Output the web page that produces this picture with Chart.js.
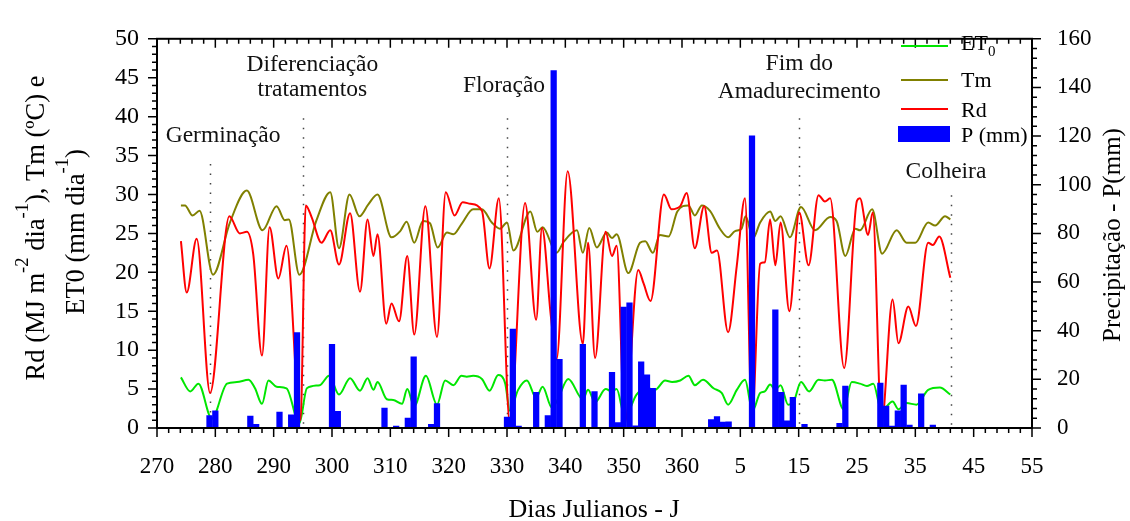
<!DOCTYPE html>
<html>
<head>
<meta charset="utf-8">
<script src="https://cdn.jsdelivr.net/npm/chart.js@4.4.1/dist/chart.umd.min.js"></script>
<style>
  html, body { margin: 0; padding: 0; background: #fff; }
  #wrap { width: 1130px; height: 521px; }
</style>
</head>
<body>
<div id="wrap"><canvas id="myChart" width="1130" height="521"></canvas></div>
<script>
/* Days are counted on from 365: 366 = day 1 of the next year */
const rdDays = [274.1, 275.1, 276.8, 279.1, 282.4, 284.2, 285.4, 286.5, 288.0, 289.3, 290.8, 292.2, 294.6, 295.5, 296.5, 298.2, 299.7, 301.2, 303.1, 304.8, 306.1, 307.1, 307.8, 309.3, 310.2, 311.5, 312.9, 314.1, 316.0, 318.0, 319.5, 321.0, 322.4, 323.7, 325.7, 327.0, 328.6, 330.5, 333.1, 335.0, 336.0, 337.5, 338.5, 340.4, 343.0, 343.9, 345.1, 346.9, 348.0, 348.8, 350.2, 352.5, 353.4, 354.6, 356.9, 358.2, 359.7, 360.8, 362.2, 363.8, 365.1, 366.0, 367.9, 369.4, 370.8, 372.0, 373.4, 374.2, 375.1, 376.0, 376.9, 378.4, 380.1, 381.7, 383.4, 384.5, 385.4, 387.8, 390.0, 390.5, 391.9, 392.7, 394.2, 396.1, 397.1, 398.8, 400.1, 402.2, 403.0, 404.1, 406.0];
const rdValues = [24.0, 17.4, 24.3, 4.5, 27.2, 25.0, 25.2, 22.3, 9.3, 25.8, 19.2, 23.4, 1.0, 28.6, 27.1, 23.8, 25.4, 21.0, 27.6, 17.5, 26.8, 22.1, 24.9, 13.4, 16.0, 13.7, 22.1, 12.0, 28.5, 11.7, 30.3, 27.3, 29.0, 28.8, 27.9, 20.5, 29.5, 0.5, 28.9, 13.9, 25.7, 14.5, 8.8, 33.0, 10.8, 23.8, 9.0, 25.2, 22.1, 23.4, 0.6, 20.3, 18.6, 16.3, 30.0, 28.1, 28.5, 30.2, 23.1, 28.5, 22.5, 22.8, 12.3, 20.9, 29.5, 1.0, 21.1, 21.3, 26.8, 20.9, 26.4, 15.0, 27.7, 20.9, 29.9, 29.1, 29.5, 7.7, 29.2, 29.5, 24.8, 27.7, 0.5, 16.5, 10.9, 15.6, 13.1, 23.8, 23.5, 24.6, 19.3];

const tmDays = [274.1, 274.8, 276.1, 277.3, 279.6, 282.5, 285.4, 288.1, 290.5, 291.9, 292.6, 294.4, 297.3, 299.7, 301.2, 303.0, 304.7, 306.2, 307.8, 310.2, 311.7, 312.8, 314.1, 315.6, 316.8, 318.1, 319.7, 320.8, 322.2, 324.2, 325.7, 327.4, 328.8, 330.0, 331.1, 334.0, 335.2, 336.1, 338.5, 339.7, 342.0, 343.0, 344.1, 345.4, 347.1, 348.0, 348.8, 350.8, 352.8, 353.7, 355.0, 356.2, 357.7, 359.2, 361.1, 362.2, 363.4, 364.8, 366.5, 367.9, 369.1, 370.2, 370.9, 372.2, 373.4, 375.1, 376.0, 376.9, 378.5, 380.4, 382.8, 385.4, 386.5, 388.0, 389.7, 390.5, 392.6, 394.3, 396.8, 398.5, 400.0, 402.2, 403.4, 405.1, 406.0];
const tmValues = [28.6, 28.6, 27.3, 27.9, 19.7, 26.4, 30.5, 25.4, 28.5, 26.7, 26.8, 19.7, 26.6, 30.3, 23.1, 30.0, 27.2, 28.7, 30.0, 24.5, 25.3, 26.5, 23.8, 26.6, 26.3, 23.2, 25.1, 24.9, 26.2, 28.1, 28.1, 26.4, 25.6, 26.4, 22.8, 27.8, 25.2, 25.8, 22.5, 23.9, 25.4, 22.5, 25.7, 23.2, 25.1, 24.4, 24.9, 19.9, 23.8, 24.0, 22.5, 24.8, 24.6, 27.8, 28.6, 27.3, 28.6, 27.9, 25.6, 24.5, 25.3, 25.6, 27.2, 24.4, 26.4, 27.8, 26.6, 27.2, 24.5, 28.4, 25.4, 27.1, 26.6, 22.1, 25.6, 25.4, 28.1, 22.4, 25.4, 23.8, 23.8, 26.4, 26.0, 27.2, 26.8];

const etDays = [274.1, 275.7, 277.1, 279.4, 282.0, 283.7, 285.7, 286.8, 288.0, 289.1, 290.5, 292.2, 294.4, 295.7, 297.9, 299.5, 301.2, 303.1, 304.8, 306.1, 307.1, 307.8, 309.4, 310.5, 312.0, 312.9, 314.1, 316.1, 318.0, 319.4, 320.8, 322.2, 323.1, 324.2, 325.7, 327.0, 328.5, 329.7, 330.5, 331.9, 333.4, 335.0, 336.1, 337.7, 338.6, 340.5, 343.0, 343.9, 345.1, 346.9, 348.0, 348.8, 350.2, 352.2, 354.0, 355.4, 357.1, 358.3, 359.7, 361.1, 362.2, 363.6, 365.4, 366.8, 367.9, 369.4, 370.8, 372.1, 373.4, 374.2, 375.1, 376.0, 376.9, 378.2, 379.1, 380.4, 381.8, 383.4, 384.5, 385.7, 387.7, 389.1, 390.5, 391.7, 392.8, 394.2, 396.1, 397.1, 398.5, 400.2, 402.2, 404.2, 406.0];
const etValues = [6.5, 4.7, 5.7, 1.2, 5.7, 5.9, 6.2, 5.1, 3.1, 6.1, 5.3, 5.1, 0.6, 5.1, 5.5, 6.7, 4.3, 6.4, 4.8, 6.4, 4.9, 5.9, 3.7, 3.6, 3.1, 5.0, 2.8, 6.7, 3.0, 6.1, 5.5, 6.7, 6.6, 6.7, 6.3, 4.8, 6.8, 5.7, 2.2, 4.9, 6.1, 3.9, 5.3, 2.6, 3.5, 6.3, 3.7, 4.9, 3.3, 5.0, 4.7, 5.0, 1.4, 4.3, 5.1, 4.9, 6.1, 5.9, 6.1, 6.7, 5.5, 6.2, 5.1, 4.5, 3.0, 4.9, 6.2, 2.2, 4.5, 4.7, 5.6, 4.9, 5.5, 3.0, 3.3, 5.9, 4.7, 6.2, 6.1, 6.2, 2.4, 5.9, 5.7, 5.4, 5.7, 2.2, 3.4, 2.4, 3.2, 3.0, 4.9, 5.2, 4.3];

const pDays = [279, 280, 286, 287, 291, 293, 294, 300, 301, 309, 311, 313, 314, 317, 318, 330, 331, 332, 335, 337, 338, 339, 343, 345, 348, 349, 350, 351, 352, 353, 354, 355, 365, 366, 367, 368, 372, 376, 377, 378, 379, 381, 387, 388, 394, 395, 396, 397, 398, 399, 401, 403];
const pValues = [5.1, 7.1, 4.9, 1.5, 6.5, 5.4, 39.2, 34.4, 6.9, 8.2, 0.8, 4.1, 29.3, 1.5, 10.0, 4.5, 40.7, 0.8, 14.7, 5.1, 146.9, 28.2, 34.4, 15.0, 22.9, 2.2, 49.7, 51.5, 0.9, 27.2, 21.9, 16.3, 3.5, 4.7, 2.4, 2.5, 120.1, 48.6, 14.7, 2.9, 12.6, 1.5, 1.9, 17.2, 18.5, 9.0, 0.8, 7.1, 17.6, 1.2, 14.0, 1.2];

/* Phenological stages */
const stageNames = [['Germinação'], ['Diferenciação', 'tratamentos'], ['Floração'], ['Fim do', 'Amadurecimento'], ['Colheira']];
const stageDays = [279.1, 295.1, 330.0, 380.1, 406.1];
const stageTops = [33.9, 39.8, 39.8, 39.8, 29.9];

const FONT = "'Liberation Serif', 'Times New Roman', serif";

document.addEventListener('DOMContentLoaded', function() {

  function toPoints(days, values) {
    return days.map((d, i) => ({ x: d, y: values[i] }));
  }

  /* text with raised / lowered parts, centered on x */
  function drawRich(ctx, parts, x, y, size) {
    let total = 0;
    parts.forEach(p => {
      ctx.font = (p[1] ? size * 0.7 : size) + 'px ' + FONT;
      total += ctx.measureText(p[0]).width;
    });
    let cx = x - total / 2;
    parts.forEach(p => {
      ctx.font = (p[1] ? size * 0.7 : size) + 'px ' + FONT;
      let dy = 0;
      if (p[1] === 'sup') dy = -size * 0.6;
      if (p[1] === 'sub') dy = size * 0.3;
      ctx.fillText(p[0], cx, y + dy);
      cx += ctx.measureText(p[0]).width;
    });
  }

  const decor = {
    id: 'decor',
    beforeDatasetsDraw(chart) {
      const ctx = chart.ctx, xs = chart.scales.x, ys = chart.scales.y;
      ctx.save();
      ctx.strokeStyle = '#444';
      ctx.lineWidth = 1.5;
      ctx.setLineDash([1.5, 8]);
      stageDays.forEach((d, i) => {
        const px = Math.round(xs.getPixelForValue(d)) + 0.5;
        ctx.beginPath();
        ctx.moveTo(px, ys.getPixelForValue(stageTops[i]));
        ctx.lineTo(px, ys.getPixelForValue(0));
        ctx.stroke();
      });
      ctx.restore();
    },
    afterDatasetsDraw(chart) {
      const ctx = chart.ctx, a = chart.chartArea;
      const xs = chart.scales.x, ys = chart.scales.y, y2 = chart.scales.y2;
      ctx.save();
      ctx.strokeStyle = '#000';

      /* minor and major ticks */
      ctx.lineWidth = 1.5;
      ctx.beginPath();
      for (let v = 270; v <= 420; v += 2) {
        const px = xs.getPixelForValue(v);
        const len = (v - 270) % 10 === 0 ? 9 : 5;
        ctx.moveTo(px, a.bottom); ctx.lineTo(px, a.bottom + len);
        ctx.moveTo(px, a.top); ctx.lineTo(px, a.top + len);
      }
      for (let v = 0; v <= 50; v += 1) {
        const py = ys.getPixelForValue(v);
        const len = v % 5 === 0 ? 9 : 5;
        ctx.moveTo(a.left - len, py); ctx.lineTo(a.left, py);
      }
      for (let v = 0; v <= 160; v += 4) {
        const py = y2.getPixelForValue(v);
        const len = v % 20 === 0 ? 9 : 5;
        ctx.moveTo(a.right, py); ctx.lineTo(a.right + len, py);
      }
      ctx.stroke();

      /* frame */
      ctx.lineWidth = 2;
      ctx.strokeRect(a.left, a.top, a.right - a.left, a.bottom - a.top);

      /* stage labels */
      const labelPos = [{ dx: 13, y: [136] }, { dx: 9, y: [65, 90] }, { dx: -3, y: [86] }, { dx: 0, y: [64, 92] }, { dx: -5, y: [172] }];
      ctx.fillStyle = '#111';
      ctx.font = '23.5px ' + FONT;
      ctx.textAlign = 'center';
      ctx.textBaseline = 'middle';
      stageNames.forEach((lines, i) => {
        const px = xs.getPixelForValue(stageDays[i]) + labelPos[i].dx;
        lines.forEach((t, j) => ctx.fillText(t, px, labelPos[i].y[j]));
      });

      /* legend */
      const series = chart.data.datasets;
      const legendY = [46, 80, 109, 134];
      ctx.textAlign = 'left';
      [1, 2, 3].forEach((di, k) => {
        const ds = series[di];
        ctx.strokeStyle = ds.borderColor;
        ctx.lineWidth = 2;
        ctx.beginPath();
        ctx.moveTo(901, legendY[k]); ctx.lineTo(948, legendY[k]);
        ctx.stroke();
      });
      ctx.fillStyle = series[0].backgroundColor;
      ctx.fillRect(898, 126, 52, 16);
      ctx.fillStyle = '#000';
      ctx.textBaseline = 'alphabetic';
      ctx.font = '22px ' + FONT;
      ctx.fillText('ET', 961, 50);
      const etw = ctx.measureText('ET').width;
      ctx.font = '15px ' + FONT;
      ctx.fillText('0', 961 + etw, 56);
      ctx.font = '22px ' + FONT;
      ctx.fillText('Tm', 961, 87);
      ctx.fillText('Rd', 961, 117);
      ctx.fillText('P (mm)', 961, 142);
      ctx.restore();
    },
    afterDraw(chart) {
      const ctx = chart.ctx;
      ctx.save();
      ctx.fillStyle = '#000';
      ctx.textBaseline = 'alphabetic';
      ctx.textAlign = 'left';

      /* left axis title */
      ctx.save();
      ctx.translate(44, 228);
      ctx.rotate(-Math.PI / 2);
      drawRich(ctx, [['Rd (MJ m'], ['-2', 'sup'], [' dia'], ['-1', 'sup'], ['), Tm (ºC) e']], 0, 0, 26.5);
      ctx.restore();
      ctx.save();
      ctx.translate(84, 232);
      ctx.rotate(-Math.PI / 2);
      drawRich(ctx, [['ET0 (mm dia'], ['-1', 'sup'], [')']], 0, 0, 26.5);
      ctx.restore();

      /* right axis title */
      ctx.save();
      ctx.translate(1113, 235);
      ctx.rotate(-Math.PI / 2);
      ctx.font = '25px ' + FONT;
      ctx.textAlign = 'center';
      ctx.textBaseline = 'middle';
      ctx.fillText('Precipitação - P(mm)', 0, 0);
      ctx.restore();

      /* x axis title */
      ctx.font = '26px ' + FONT;
      ctx.textAlign = 'center';
      ctx.textBaseline = 'middle';
      ctx.fillText('Dias Julianos - J', 594, 510);
      ctx.restore();
    }
  };

  function initializeChart() {
    const ctx = document.getElementById('myChart');
    Chart.defaults.font.family = FONT;
    Chart.defaults.font.size = 23;
    Chart.defaults.color = '#000';

    new Chart(ctx, {
      type: 'line',
      data: {
        datasets: [{
          type: 'bar',
          label: 'P (mm)',
          data: toPoints(pDays, pValues),
          yAxisID: 'y2',
          backgroundColor: '#0000ff',
          barThickness: 5.6,
          order: 0
        }, {
          label: 'ET0',
          data: toPoints(etDays, etValues),
          borderColor: '#00e600',
          order: 3
        }, {
          label: 'Tm',
          data: toPoints(tmDays, tmValues),
          borderColor: '#808000',
          order: 2
        }, {
          label: 'Rd',
          data: toPoints(rdDays, rdValues),
          borderColor: '#ff0000',
          order: 1
        }]
      },
      options: {
        responsive: false,
        animation: false,
        devicePixelRatio: 1,
        layout: { padding: { top: 23, left: 0, right: 0, bottom: 0 } },
        elements: {
          point: { radius: 0 },
          line: { borderWidth: 2, cubicInterpolationMode: 'monotone', fill: false }
        },
        plugins: { legend: { display: false }, tooltip: { enabled: false } },
        scales: {
          x: {
            type: 'linear',
            min: 270,
            max: 420,
            offset: false,
            grid: { display: false, drawTicks: false, offset: false },
            border: { display: false },
            ticks: {
              stepSize: 10,
              autoSkip: false,
              maxRotation: 0,
              padding: 25,
              callback: v => (v > 365 ? v - 365 : v)
            },
            afterFit: s => { s.height = 93; }
          },
          y: {
            position: 'left',
            min: 0,
            max: 50,
            grid: { display: false, drawTicks: false },
            border: { display: false },
            ticks: { stepSize: 5, padding: 18, font: { size: 24 } },
            afterFit: s => { s.width = 157; }
          },
          y2: {
            position: 'right',
            min: 0,
            max: 160,
            grid: { display: false, drawTicks: false },
            border: { display: false },
            ticks: { stepSize: 20, padding: 25 },
            afterFit: s => { s.width = 98; }
          }
        }
      },
      plugins: [decor]
    });
  }
  initializeChart();
});
</script>
</body>
</html>
